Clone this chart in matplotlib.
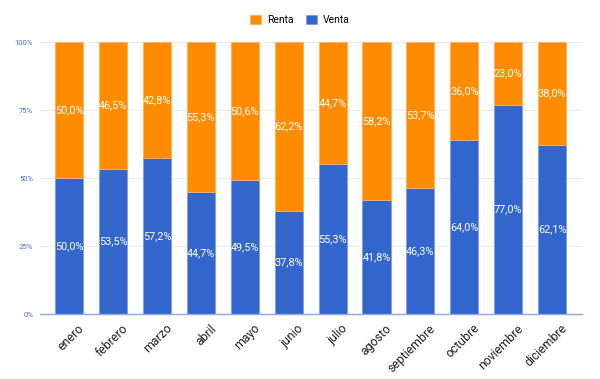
import matplotlib.pyplot as plt
import numpy as np

plt.rcParams['font.family'] = ['Roboto', 'DejaVu Sans']

meses = ['enero', 'febrero', 'marzo', 'abril', 'mayo', 'junio', 'julio',
         'agosto', 'septiembre', 'octubre', 'noviembre', 'diciembre']
venta = [50.0, 53.5, 57.2, 44.7, 49.5, 37.8, 55.3, 41.8, 46.3, 64.0, 77.0, 62.1]
renta = [50.0, 46.5, 42.8, 55.3, 50.6, 62.2, 44.7, 58.2, 53.7, 36.0, 23.0, 38.0]
yticks = [0, 25, 50, 75, 100]

c_venta = '#3366CC'
c_renta = '#FF8C00'

v = np.array(venta)
r = np.array(renta)
tot = v + r
v_n = v / tot * 100
r_n = r / tot * 100
x = np.arange(len(meses))

fig = plt.figure(figsize=(6, 3.79), dpi=100)
ax = fig.add_axes([0.067, 0.1715, 0.903, 0.7175])

ax.bar(x, v_n, width=0.64, color=c_venta, edgecolor='#7f9fe6', linewidth=0.6,
       label='Venta', zorder=2)
ax.bar(x, r_n, width=0.64, bottom=v_n, color=c_renta, edgecolor='#ffb060',
       linewidth=0.6, label='Renta', zorder=2)

for i in range(len(meses)):
    ax.text(x[i], v_n[i] / 2, ('%.1f%%' % venta[i]).replace('.', ','),
            ha='center', va='center', color='white', fontsize=7.8, zorder=3)
    ax.text(x[i], v_n[i] + r_n[i] / 2, ('%.1f%%' % renta[i]).replace('.', ','),
            ha='center', va='center', color='white', fontsize=7.8, zorder=3)

ax.set_xlim(-0.66, 11.68)
ax.set_ylim(0, 100)
ax.set_yticks(yticks)
ax.set_yticklabels(['%d%%' % t for t in yticks], fontsize=5.5, color='#4a6fd0')
# labels anchored a bit right of bar centre, like the original
ax.set_xticks(x + 0.3)
ax.set_xticklabels(meses, rotation=45, ha='right', va='center',
                   rotation_mode='anchor', fontsize=8.8, color='#222222')
ax.tick_params(axis='both', length=0)
ax.tick_params(axis='x', pad=9)
ax.tick_params(axis='y', pad=5)
ax.grid(axis='y', color='#e6e6e6', linewidth=0.6, zorder=0)
for s in ['top', 'right', 'left']:
    ax.spines[s].set_visible(False)
ax.spines['bottom'].set_color('#8fa8e8')
ax.spines['bottom'].set_linewidth(1)

h, l = ax.get_legend_handles_labels()
fig.legend(h[::-1], l[::-1], loc='center', bbox_to_anchor=(0.5, 0.947), ncol=2,
           frameon=False, fontsize=7.5, handlelength=1.0, handleheight=1.0,
           columnspacing=1.2, handletextpad=0.6)

fig.savefig('out.png', dpi=100)
